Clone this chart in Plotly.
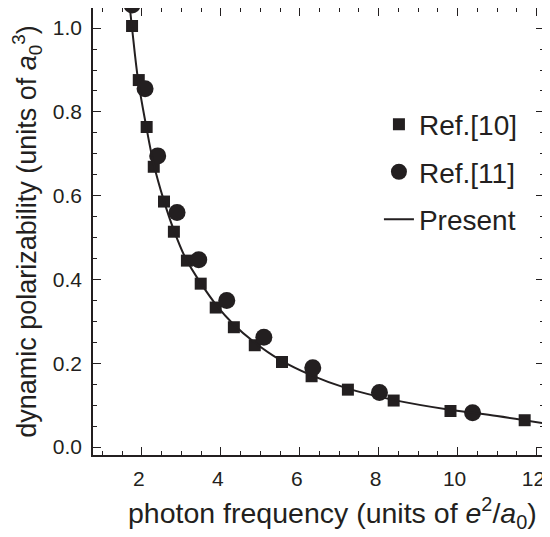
import plotly.graph_objects as go

# Ref.[10] (squares)
ref10_x = [1.75, 1.92, 2.12, 2.30, 2.56, 2.81, 3.14, 3.49, 3.87, 4.33, 4.86, 5.55, 6.30, 7.22, 8.38, 9.82, 11.70]
ref10_y = [1.005, 0.876, 0.764, 0.669, 0.586, 0.514, 0.445, 0.390, 0.333, 0.286, 0.243, 0.203, 0.169, 0.137, 0.111, 0.086, 0.064]

# Ref.[11] (circles)
ref11_x = [1.75, 2.08, 2.40, 2.89, 3.44, 4.15, 5.09, 6.33, 8.02, 10.38]
ref11_y = [1.055, 0.855, 0.695, 0.560, 0.447, 0.350, 0.262, 0.189, 0.130, 0.082]

# Present (curve)
pres_x = [1.68, 1.75, 1.90, 2.10, 2.30, 2.55, 2.80, 3.10, 3.50, 3.90, 4.30, 4.85, 5.50, 6.30, 7.20, 8.40, 9.80, 11.00, 12.25]
pres_y = [1.06, 1.00, 0.878, 0.770, 0.675, 0.590, 0.520, 0.452, 0.390, 0.337, 0.295, 0.250, 0.208, 0.171, 0.140, 0.112, 0.089, 0.074, 0.056]

ink = "#231f20"
fam = "Liberation Sans, Arial, Helvetica, sans-serif"

fig = go.Figure()
fig.add_trace(go.Scatter(x=ref10_x, y=ref10_y, mode="markers", name="Ref.[10]",
                         marker=dict(symbol="square", size=12, color=ink), legendgroup="a"))
fig.add_trace(go.Scatter(x=ref11_x, y=ref11_y, mode="markers", name="Ref.[11]",
                         marker=dict(symbol="circle", size=17, color=ink), legendgroup="b"))
fig.add_trace(go.Scatter(x=pres_x, y=pres_y, mode="lines", name="Present",
                         line=dict(color=ink, width=2, shape="spline"), legendgroup="c"))

tickfont = dict(family=fam, size=21, color=ink)
axis_common = dict(showline=True, linecolor=ink, linewidth=1.5, mirror="ticks",
                   ticks="inside", ticklen=8, tickwidth=1.2, tickcolor=ink,
                   showgrid=False, zeroline=False, tickfont=tickfont, automargin=False,
                   ticklabeloverflow="allow")
fig.update_layout(
    width=542, height=529,
    margin=dict(l=85, r=6, t=0, b=82),
    paper_bgcolor="white", plot_bgcolor="white",
    font=dict(family=fam, size=22, color=ink),
    showlegend=True,
    legend=dict(x=0.634, y=0.795, xanchor="left", yanchor="top", bgcolor="rgba(0,0,0,0)",
                font=dict(family=fam, size=28, color=ink),
                tracegroupgap=8, itemwidth=30),
    xaxis=dict(range=[0.76, 12.19], tickvals=[2, 4, 6, 8, 10, 12],
               minor=dict(dtick=0.5, tick0=0, ticks="inside", ticklen=4, tickcolor=ink),
               ticklabelstandoff=4, ticklabelshift=-3,
               **axis_common),
    yaxis=dict(range=[-0.019, 1.048], tickvals=[0, 0.2, 0.4, 0.6, 0.8, 1.0], tickformat=".1f",
               minor=dict(dtick=0.05, tick0=0, ticks="inside", ticklen=4, tickcolor=ink),
               title=dict(text="dynamic polarizability (units of <i>a</i><sub>0</sub><sup>3</sup>)",
                          font=dict(family=fam, size=27, color=ink), standoff=12),
               ticklabelstandoff=5,
               **axis_common),
    annotations=[dict(text="photon frequency (units of <i>e</i><sup>2</sup>/<i>a</i><sub>0</sub>)",
                      xref="paper", yref="paper", x=0.53, y=-0.13, xanchor="center", yanchor="middle",
                      showarrow=False, font=dict(family=fam, size=28.5, color=ink))],
)
fig.write_html("out.html")
